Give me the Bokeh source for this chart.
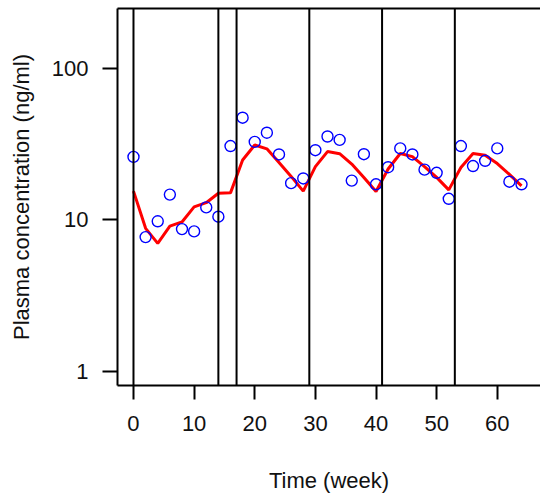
from bokeh.plotting import figure
from bokeh.models import Range1d, FixedTicker, PrintfTickFormatter, Span, LinearAxis
from bokeh.embed import file_html
from bokeh.resources import INLINE

# Observed plasma concentrations (blue circles)
obs_week = [0, 2, 4, 6, 8, 10, 12, 14, 16, 18, 20, 22, 24, 26, 28, 30, 32,
            34, 36, 38, 40, 42, 44, 46, 48, 50, 52, 54, 56, 58, 60, 62, 64]
obs_conc = [26.1, 7.7, 9.8, 14.7, 8.7, 8.4, 12.1, 10.5, 30.8, 47.4, 32.8, 37.7,
            27.1, 17.5, 18.8, 28.9, 35.6, 33.8, 18.2, 27.2, 17.2, 22.3, 29.7,
            27.1, 21.5, 20.5, 13.8, 30.8, 22.7, 24.6, 29.7, 17.9, 17.2]

# Model prediction (red line)
pred_week = obs_week
pred_conc = [15.5, 8.8, 7.0, 9.1, 9.7, 12.2, 13.0, 15.0, 15.1, 24.9, 31.3, 29.5,
             24.0, 19.4, 15.5, 22.5, 28.3, 27.4, 23.4, 19.1, 15.4, 21.7, 27.5,
             26.2, 22.5, 19.1, 15.8, 22.2, 27.5, 26.8, 23.6, 20.0, 16.8]

# Dosing times (vertical lines)
dose_week = [0, 14, 17, 29, 41, 53]

x_ticks = [0, 10, 20, 30, 40, 50, 60]
y_ticks = [1, 10, 100]

FONT = "Liberation Sans"
FS = "22px"

p = figure(width=540, height=495, y_axis_type="log",
           x_range=Range1d(-2.637, 67.13),
           y_range=Range1d(10 ** -0.0943, 10 ** 2.3975),
           output_backend="svg", toolbar_location=None,
           min_border_left=117, min_border_right=0,
           min_border_top=8, min_border_bottom=109)
p.outline_line_color = None
p.grid.visible = False
p.background_fill_color = "white"
p.border_fill_color = "white"

for d in dose_week:
    p.add_layout(Span(location=d, dimension="height", line_color="black", line_width=2))

p.line(pred_week, pred_conc, line_color="red", line_width=3)
p.scatter(obs_week, obs_conc, marker="circle", size=11, fill_color=None,
          line_color="blue", line_width=1.4)

xa = p.xaxis[0]
xa.ticker = FixedTicker(ticks=x_ticks)
xa.axis_label = "Time (week)"
xa.major_tick_out = 14
xa.major_tick_in = 0
xa.minor_tick_line_color = None
xa.major_label_standoff = 16
xa.axis_label_standoff = 34

ya = p.yaxis[0]
ya.ticker = FixedTicker(ticks=y_ticks)
ya.formatter = PrintfTickFormatter(format="%d")
ya.axis_label = "Plasma concentration (ng/ml)"
ya.major_tick_out = 15
ya.major_tick_in = 0
ya.minor_tick_line_color = None
ya.major_label_standoff = 14
ya.axis_label_standoff = 15

for ax in (xa, ya):
    ax.axis_line_width = 2
    ax.major_tick_line_width = 2
    ax.axis_line_color = "black"
    ax.major_tick_line_color = "black"
    ax.major_label_text_font = FONT
    ax.major_label_text_font_size = FS
    ax.major_label_text_color = "#111111"
    ax.axis_label_text_font = FONT
    ax.axis_label_text_font_size = FS
    ax.axis_label_text_font_style = "normal"
    ax.axis_label_text_color = "#111111"

top = LinearAxis(ticker=FixedTicker(ticks=[]), axis_line_width=2,
                 major_tick_line_color=None, minor_tick_line_color=None,
                 major_label_text_font_size="0px")
p.add_layout(top, "above")

open("out.html", "w").write(file_html(p, INLINE))
